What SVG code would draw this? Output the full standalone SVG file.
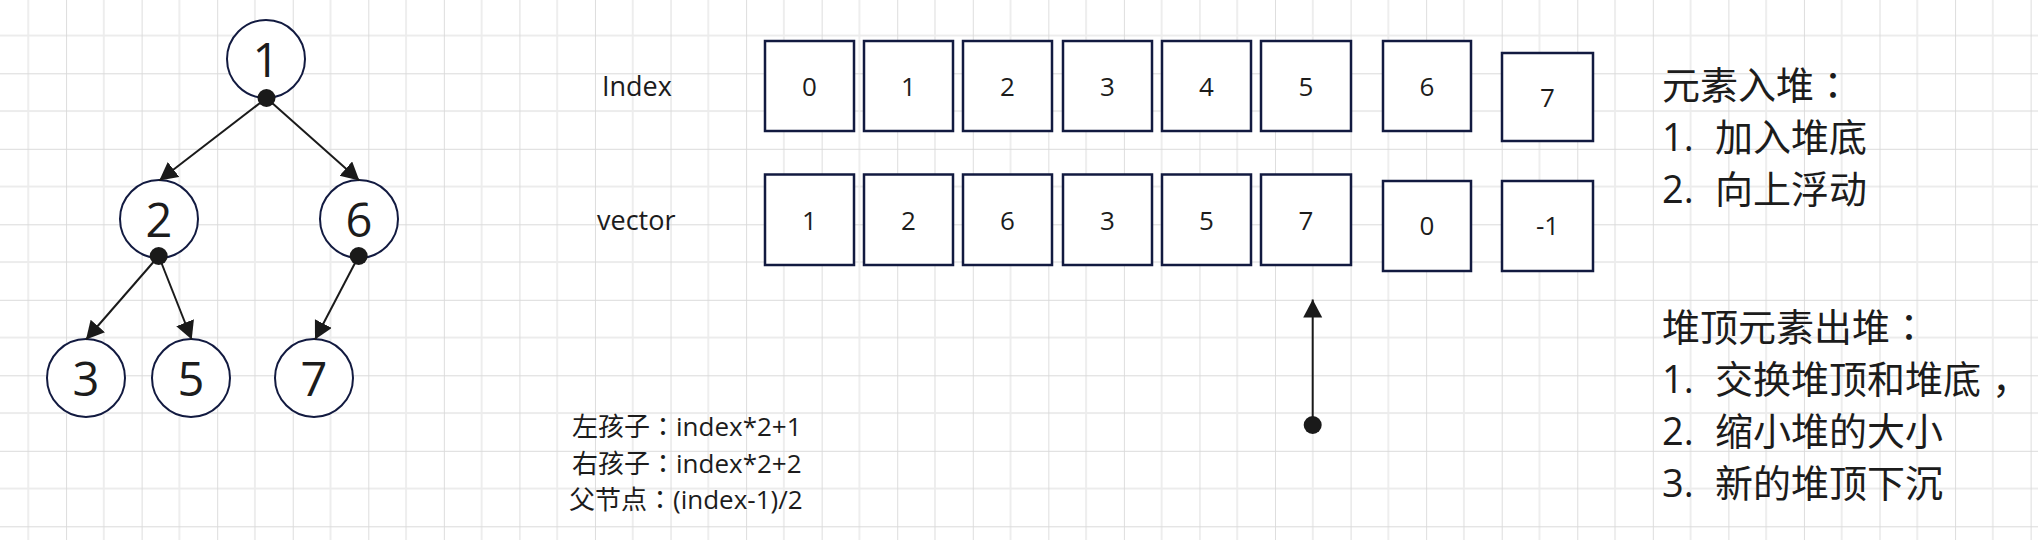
<svg xmlns="http://www.w3.org/2000/svg" width="2038" height="540" viewBox="0 0 2038 540">
<style>
.node circle{fill:#fff;stroke:#121a40;stroke-width:2}
.box rect{fill:#fff;stroke:#121a40;stroke-width:2.5}
.t{font-family:"Open Sans","Noto Sans CJK SC",sans-serif;fill:#1c1c1c}
.p{font-family:"Noto Sans CJK TC",sans-serif}
.big{font-size:47px;text-anchor:middle}
.cell{font-size:26px;text-anchor:middle}
.lbl{font-size:27px}
.note{font-size:38px}
.small{font-size:26px}
.conn line{stroke:#1a1a1a;stroke-width:2}
.conn circle{fill:#1a1a1a}
</style>
<defs>
<pattern id="grid" patternUnits="userSpaceOnUse" x="-9.5" y="-2.2" width="75.56" height="75.5">
<line x1="37.78" y1="0" x2="37.78" y2="75.5" stroke="#ececec" stroke-width="1.8"/>
<line x1="0" y1="37.75" x2="75.56" y2="37.75" stroke="#ececec" stroke-width="1.8"/>
<line x1="0" y1="0" x2="0" y2="75.5" stroke="#dadada" stroke-width="1.8"/>
<line x1="0" y1="0" x2="75.56" y2="0" stroke="#dadada" stroke-width="1.8"/>
</pattern>
<marker id="arr" markerUnits="userSpaceOnUse" markerWidth="20" markerHeight="20" refX="18" refY="9.5" orient="auto" viewBox="0 0 20 20">
<path d="M0,0 L18,9.5 L0,19 z" fill="#1a1a1a"/>
</marker>
</defs>
<rect width="2038" height="540" fill="#fff"/>
<rect width="2038" height="540" fill="url(#grid)"/>

<g id="tree-1" class="node"><circle cx="266" cy="59" r="39"/><text class="t big" x="266" y="77">1</text></g>
<g id="tree-2" class="node"><circle cx="159" cy="219" r="39"/><text class="t big" x="159" y="237">2</text></g>
<g id="tree-6" class="node"><circle cx="359" cy="219" r="39"/><text class="t big" x="359" y="237">6</text></g>
<g id="tree-3" class="node"><circle cx="86" cy="378" r="39"/><text class="t big" x="86" y="396">3</text></g>
<g id="tree-5" class="node"><circle cx="191" cy="378" r="39"/><text class="t big" x="191" y="396">5</text></g>
<g id="tree-7" class="node"><circle cx="314" cy="378" r="39"/><text class="t big" x="314" y="396">7</text></g>

<g id="connectors" class="conn">
<line x1="266.5" y1="98" x2="159.3" y2="180.5" marker-end="url(#arr)"/>
<line x1="266.5" y1="98" x2="359.3" y2="180.5" marker-end="url(#arr)"/>
<line x1="158.7" y1="256" x2="86" y2="339.5" marker-end="url(#arr)"/>
<line x1="158.7" y1="256" x2="191.7" y2="339.5" marker-end="url(#arr)"/>
<line x1="358.7" y1="256" x2="315" y2="339.5" marker-end="url(#arr)"/>
<line x1="1312.7" y1="425" x2="1312.7" y2="299.5" marker-end="url(#arr)"/>
<circle cx="266.5" cy="98" r="9"/>
<circle cx="158.7" cy="256" r="9"/>
<circle cx="358.7" cy="256" r="9"/>
<circle cx="1312.7" cy="425" r="9"/>
</g>

<g id="label-index"><text class="t lbl" x="602" y="96">Index</text></g>
<g id="label-vector"><text class="t lbl" x="597" y="230">vector</text></g>

<g id="idx-0" class="box"><rect x="765" y="41" width="89" height="90"/><text class="t cell" x="809.5" y="96">0</text></g>
<g id="idx-1" class="box"><rect x="864" y="41" width="89" height="90"/><text class="t cell" x="908.5" y="96">1</text></g>
<g id="idx-2" class="box"><rect x="963" y="41" width="89" height="90"/><text class="t cell" x="1007.5" y="96">2</text></g>
<g id="idx-3" class="box"><rect x="1063" y="41" width="89" height="90"/><text class="t cell" x="1107.5" y="96">3</text></g>
<g id="idx-4" class="box"><rect x="1162" y="41" width="89" height="90"/><text class="t cell" x="1206.5" y="96">4</text></g>
<g id="idx-5" class="box"><rect x="1261" y="41" width="90" height="90"/><text class="t cell" x="1306" y="96">5</text></g>
<g id="idx-6" class="box"><rect x="1383" y="41" width="88" height="90"/><text class="t cell" x="1427" y="96">6</text></g>
<g id="idx-7" class="box"><rect x="1502" y="53" width="91" height="88"/><text class="t cell" x="1547.5" y="107">7</text></g>

<g id="vec-0" class="box"><rect x="765" y="174.5" width="89" height="90.5"/><text class="t cell" x="809.5" y="230">1</text></g>
<g id="vec-1" class="box"><rect x="864" y="174.5" width="89" height="90.5"/><text class="t cell" x="908.5" y="230">2</text></g>
<g id="vec-2" class="box"><rect x="963" y="174.5" width="89" height="90.5"/><text class="t cell" x="1007.5" y="230">6</text></g>
<g id="vec-3" class="box"><rect x="1063" y="174.5" width="89" height="90.5"/><text class="t cell" x="1107.5" y="230">3</text></g>
<g id="vec-4" class="box"><rect x="1162" y="174.5" width="89" height="90.5"/><text class="t cell" x="1206.5" y="230">5</text></g>
<g id="vec-5" class="box"><rect x="1261" y="174.5" width="90" height="90.5"/><text class="t cell" x="1306" y="230">7</text></g>
<g id="vec-6" class="box"><rect x="1383" y="181" width="88" height="90"/><text class="t cell" x="1427" y="235">0</text></g>
<g id="vec-7" class="box"><rect x="1502" y="181" width="91" height="90"/><text class="t cell" x="1547.5" y="235">-1</text></g>

<g id="note-push">
<text class="t note" x="1662" y="99">元素入堆<tspan class="p">：</tspan></text>
<text class="t note" x="1662" y="151">1.</text><text class="t note" x="1715" y="151">加入堆底</text>
<text class="t note" x="1662" y="203">2.</text><text class="t note" x="1715" y="203">向上浮动</text>
</g>

<g id="note-pop">
<text class="t note" x="1662" y="341">堆顶元素出堆<tspan class="p">：</tspan></text>
<text class="t note" x="1662" y="393">1.</text><text class="t note" x="1715" y="393">交换堆顶和堆底<tspan dx="11">，</tspan></text>
<text class="t note" x="1662" y="445">2.</text><text class="t note" x="1715" y="445">缩小堆的大小</text>
<text class="t note" x="1662" y="497">3.</text><text class="t note" x="1715" y="497">新的堆顶下沉</text>
</g>

<g id="note-formula">
<text class="t small" x="572" y="436">左孩子<tspan class="p">：</tspan>index*2+1</text>
<text class="t small" x="572" y="473">右孩子<tspan class="p">：</tspan>index*2+2</text>
<text class="t small" x="569" y="509">父节点<tspan class="p">：</tspan>(index-1)/2</text>
</g>
</svg>
